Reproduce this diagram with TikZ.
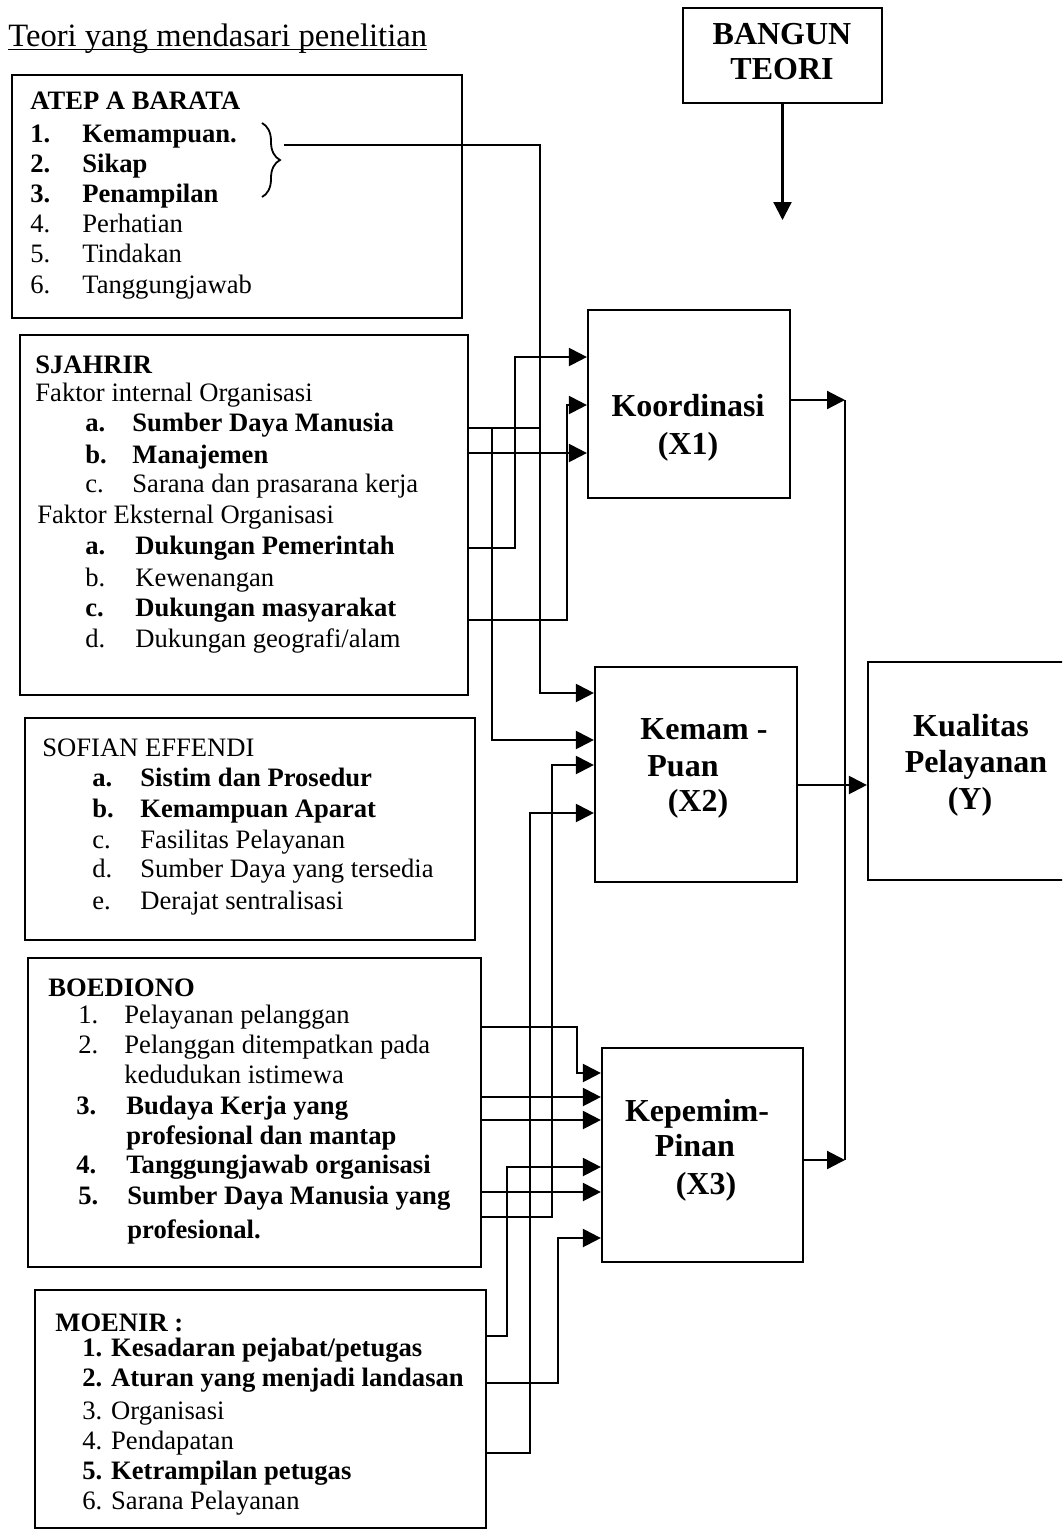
\documentclass[tikz,border=0pt]{standalone}
\usepackage{fontspec}
\setmainfont{Liberation Serif}
\usetikzlibrary{arrows.meta,fit,decorations.pathreplacing}
\begin{document}
\begin{tikzpicture}[x=0.5pt,y=-0.5pt,
  box/.style={draw, line width=1.1pt, inner sep=0pt},
  txt/.style={anchor=west, inner sep=0pt, font=\fontsize{13.3pt}{16pt}\selectfont, text height=0.66em, text depth=0pt},
  btxt/.style={txt, font=\fontsize{13.3pt}{16pt}\selectfont\bfseries},
  lab/.style={inner sep=0pt, font=\fontsize{16pt}{19pt}\selectfont\bfseries, text height=0.66em, text depth=0pt},
  con/.style={line width=1.1pt},
  arr/.style={con, -{Triangle[length=9pt,width=9pt]}}]
\useasboundingbox (0,0) rectangle (1062,1532);
\fill[white] (0,0) rectangle (1062,1532);
\clip (0,0) rectangle (1062,1532);

% title
\node[txt, font=\fontsize{16.3pt}{19pt}\selectfont] (title) at (8,40) {Teori yang mendasari penelitian};
\draw[line width=0.7pt] ([yshift=-1.5pt]title.base west) -- ([yshift=-1.5pt]title.base east);

% boxes
\node[box, fit={(12,75)(462,318)}] (atep) {};
\node[box, fit={(20,335)(468,695)}] (sj) {};
\node[box, fit={(25,718)(475,940)}] (sof) {};
\node[box, fit={(28,958)(481,1267)}] (bo) {};
\node[box, fit={(35,1290)(486,1528)}] (mo) {};
\node[box, fit={(683,8)(882,103)}] (bangun) {};
\node[box, fit={(588,310)(790,498)}] (x1) {};
\node[box, fit={(595,667)(797,882)}] (x2) {};
\node[box, fit={(602,1048)(803,1262)}] (x3) {};
\node[box, fit={(868,662)(1080,880)}] (kual) {};

% ATEP
\node[btxt] (a0) at (30,103) {ATEP A BARATA};
\node[btxt] (a1n) at (30,136) {1.}; \node[btxt] (a1) at (82,136) {Kemampuan.};
\node[btxt] (a2n) at (30,166) {2.}; \node[btxt] (a2) at (82,166) {Sikap};
\node[btxt] (a3n) at (30,196) {3.}; \node[btxt] (a3) at (82,196) {Penampilan};
\node[txt] (a4n) at (30,226) {4.}; \node[txt] (a4) at (82,226) {Perhatian};
\node[txt] (a5n) at (30,256) {5.}; \node[txt] (a5) at (82,256) {Tindakan};
\node[txt] (a6n) at (30,287) {6.}; \node[txt] (a6) at (82,287) {Tanggungjawab};
\draw[line width=0.9pt, decorate, decoration={brace, amplitude=9pt}] (262,123) -- (262,197);
\coordinate (bracetip) at (284,145);

% SJAHRIR
\node[btxt] (s0) at (35,367) {SJAHRIR};
\node[txt] (s1) at (35,395) {Faktor internal Organisasi};
\node[btxt] (s2n) at (85,425) {a.}; \node[btxt] (s2) at (132,425) {Sumber Daya Manusia};
\node[btxt] (s3n) at (85,457) {b.}; \node[btxt] (s3) at (132,457) {Manajemen};
\node[txt] (s4n) at (85,486) {c.}; \node[txt] (s4) at (132,486) {Sarana dan prasarana kerja};
\node[txt] (s5) at (37,517) {Faktor Eksternal Organisasi};
\node[btxt] (s6n) at (85,548) {a.}; \node[btxt] (s6) at (135,548) {Dukungan Pemerintah};
\node[txt] (s7n) at (85,580) {b.}; \node[txt] (s7) at (135,580) {Kewenangan};
\node[btxt] (s8n) at (85,610) {c.}; \node[btxt] (s8) at (135,610) {Dukungan masyarakat};
\node[txt] (s9n) at (85,641) {d.}; \node[txt] (s9) at (135,641) {Dukungan geografi/alam};

% SOFIAN EFFENDI
\node[txt] (f0) at (42,750) {SOFIAN EFFENDI};
\node[btxt] (f1n) at (92,780) {a.}; \node[btxt] (f1) at (140,780) {Sistim dan Prosedur};
\node[btxt] (f2n) at (92,811) {b.}; \node[btxt] (f2) at (140,811) {Kemampuan Aparat};
\node[txt] (f3n) at (92,842) {c.}; \node[txt] (f3) at (140,842) {Fasilitas Pelayanan};
\node[txt] (f4n) at (92,871) {d.}; \node[txt] (f4) at (140,871) {Sumber Daya yang tersedia};
\node[txt] (f5n) at (92,903) {e.}; \node[txt] (f5) at (140,903) {Derajat sentralisasi};

% BOEDIONO
\node[btxt] (b0) at (48,990) {BOEDIONO};
\node[txt] (b1n) at (78,1017) {1.}; \node[txt] (b1) at (124,1017) {Pelayanan pelanggan};
\node[txt] (b2n) at (78,1047) {2.}; \node[txt] (b2) at (124,1047) {Pelanggan ditempatkan pada};
\node[txt] (b2b) at (124,1077) {kedudukan istimewa};
\node[btxt] (b3n) at (76,1108) {3.}; \node[btxt] (b3) at (126,1108) {Budaya Kerja yang};
\node[btxt] (b3b) at (126,1138) {profesional dan mantap};
\node[btxt] (b4n) at (76,1167) {4.}; \node[btxt] (b4) at (126,1167) {Tanggungjawab organisasi};
\node[btxt] (b5n) at (78,1198) {5.}; \node[btxt] (b5) at (127,1198) {Sumber Daya Manusia yang};
\node[btxt] (b5b) at (127,1232) {profesional.};

% MOENIR
\node[btxt] (m0) at (55,1325) {MOENIR :};
\node[btxt] (m1) at (82,1350) {1. Kesadaran pejabat/petugas};
\node[btxt] (m2) at (82,1380) {2. Aturan yang menjadi landasan};
\node[txt] (m3) at (82,1413) {3. Organisasi};
\node[txt] (m4) at (82,1443) {4. Pendapatan};
\node[btxt] (m5) at (82,1473) {5. Ketrampilan petugas};
\node[txt] (m6) at (82,1503) {6. Sarana Pelayanan};

% right-hand labels
\node[lab] (bg1) at (782,38) {BANGUN};
\node[lab] (bg2) at (782,73) {TEORI};
\node[lab] (k1) at (688,410) {Koordinasi};
\node[lab] (k2) at (688,448) {(X1)};
\node[lab] (p1) at (704,733) {Kemam -};
\node[lab] (p2) at (683,770) {Puan};
\node[lab] (p3) at (698,805) {(X2)};
\node[lab] (q1) at (697,1115) {Kepemim-};
\node[lab] (q2) at (695,1150) {Pinan};
\node[lab] (q3) at (706,1188) {(X3)};
\node[lab] (y1) at (971,730) {Kualitas};
\node[lab] (y2) at (976,766) {Pelayanan};
\node[lab] (y3) at (970,803) {(Y)};

% connectors
\draw[arr] (bangun.south) -- (bangun.south |- 0,220);
\draw[arr] (bracetip) -| (540,693) -- (x2.west |- 0,693);
\draw[con] (sj.east |- 0,428) -- (540,428);
\draw[arr] (sj.east |- 0,428) -- (492,428) |- (x2.west |- 0,740);
\draw[arr] (sj.east |- 0,453) -- (x1.west |- 0,453);
\draw[arr] (sj.east |- 0,548) -| (515,357) -- (x1.west |- 0,357);
\draw[arr] (sj.east |- 0,620) -| (567,405) -- (x1.west |- 0,405);

\draw[arr] (bo.east |- 0,1027) -| (577,1073) -- (x3.west |- 0,1073);
\draw[arr] (bo.east |- 0,1097) -- (x3.west |- 0,1097);
\draw[arr] (bo.east |- 0,1120) -- (x3.west |- 0,1120);
\draw[arr] (bo.east |- 0,1192) -- (x3.west |- 0,1192);
\draw[arr] (bo.east |- 0,1217) -| (552,765) -- (x2.west |- 0,765);

\draw[arr] (mo.east |- 0,1336) -| (507,1167) -- (x3.west |- 0,1167);
\draw[arr] (mo.east |- 0,1383) -| (558,1238) -- (x3.west |- 0,1238);
\draw[arr] (mo.east |- 0,1453) -| (530,813) -- (x2.west |- 0,813);

\coordinate (busT) at (845,400);
\coordinate (busB) at (845,1160);
\draw[arr] (x1.east |- 0,400) -- (busT);
\draw[con] (busT) -- (busB);
\draw[arr] (x3.east |- 0,1160) -- (busB);
\draw[arr] (x2.east |- 0,785) -- (kual.west |- 0,785);
\end{tikzpicture}
\end{document}
